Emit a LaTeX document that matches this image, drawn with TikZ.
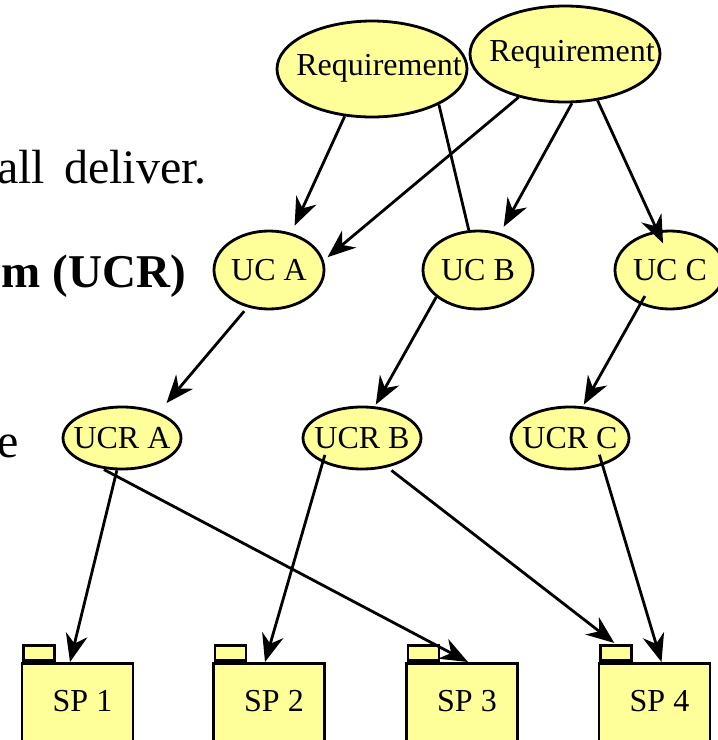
\documentclass[tikz,border=0pt]{standalone}
\usepackage{fontspec}
\setmainfont{Liberation Serif}
\usetikzlibrary{shapes.geometric,arrows.meta}
\definecolor{ucfill}{HTML}{FFFF99}
\begin{document}
\begin{tikzpicture}[x=1pt,y=-1pt,
  every node/.style={font=\fontsize{32}{38}\selectfont},
  uc/.style={ellipse, draw, line width=2.8pt, fill=ucfill, inner sep=0pt},
  req/.style={uc, minimum width=190pt, minimum height=96pt},
  usec/.style={uc, minimum width=110pt, minimum height=78pt},
  ucr/.style={uc, minimum width=118pt, minimum height=62pt},
  pkg/.style={rectangle, draw, line width=2.8pt, fill=ucfill, minimum width=111pt, minimum height=100pt, inner sep=0pt, anchor=north},
  pkgtab/.style={rectangle, draw, line width=2.8pt, fill=ucfill, minimum width=31pt, minimum height=15pt, inner sep=0pt, anchor=south west},
  conn/.style={line width=2.8pt},
  arr/.style={conn, -{Stealth[length=28pt,width=22pt,inset=9pt]}},
  slide/.style={font=\fontsize{48}{57}\selectfont, anchor=base east, inner sep=0pt}
]
\clip (0,0) rectangle (718,740);

% slide text (clipped at left edge)
\node[slide] (t1) at (207,183) {all\hspace{19pt}deliver.};
\node[slide, font=\fontsize{47}{56}\selectfont\bfseries] (t2) at (186,287) {m (UCR)};
\node[slide] (t3) at (19,457) {e};

% requirements
\node[req, label={[xshift=7pt,yshift=1pt]center:Requirement}] (r1) at (372,69) {};
\node[req, label={[xshift=7pt]center:Requirement}] (r2) at (565,54) {};

% use cases
\node[usec, label=center:UC A] (uca) at (269,270) {};
\node[usec, label=center:UC B] (ucb) at (478,270) {};
\node[usec, label=center:UC C] (ucc) at (670,270) {};

% use case realizations
\node[ucr, label=center:UCR A] (ucra) at (122,438) {};
\node[ucr, label=center:UCR B] (ucrb) at (362,438) {};
\node[ucr, label=center:UCR C] (ucrc) at (570,438) {};

% subsystem packages
\node[pkgtab] (sp1tab) at (22,662) {};
\node[pkg] (sp1) at (77.5,662) {};
\node (sp1t) at (82.5,701.5) {SP 1};
\node[pkgtab] (sp2tab) at (213.5,662) {};
\node[pkg] (sp2) at (269,662) {};
\node (sp2t) at (274,701.5) {SP 2};
\node[pkgtab] (sp3tab) at (406.5,662) {};
\node[pkg] (sp3) at (462,662) {};
\node (sp3t) at (467,701.5) {SP 3};
\node[pkgtab] (sp4tab) at (599,662) {};
\node[pkg] (sp4) at (654.5,662) {};
\node (sp4t) at (659.5,701.5) {SP 4};

% connectors
\draw[arr, shorten >=8pt] (r1.-120) -- (uca.59);
\draw[conn] (r1.-28) -- (ucb.103);
\draw[arr, shorten >=5pt] (r2.-137) -- (uca.10);
\draw[arr, shorten >=7pt] (r2.-82) -- (ucb.59);
\draw[arr, shorten >=-14pt] (r2.-55) -- (ucc.108);
\draw[arr, shorten <=5pt, shorten >=12pt] (uca.-120) -- (ucra.35);
\draw[arr, shorten >=2pt] (ucb.-147) -- (ucrb.68);
\draw[arr, shorten <=-9.5pt, shorten >=2pt] (ucc.-131) -- (ucrc.68);
\draw[arr] (ucra.-99) -- ([xshift=-7.5pt]sp1.north);
\draw[arr, shorten <=2pt] (ucra.-123) -- ([xshift=6pt]sp3.north);
\draw[arr, shorten <=-8pt] (ucrb.-148) -- ([xshift=-4pt]sp2.north);
\draw[arr, shorten <=5pt, shorten >=2pt] (ucrb.-49) -- (sp4tab.north);
\draw[arr, shorten <=-11pt] (ucrc.-40) -- ([xshift=7pt]sp4.north);
\end{tikzpicture}
\end{document}
